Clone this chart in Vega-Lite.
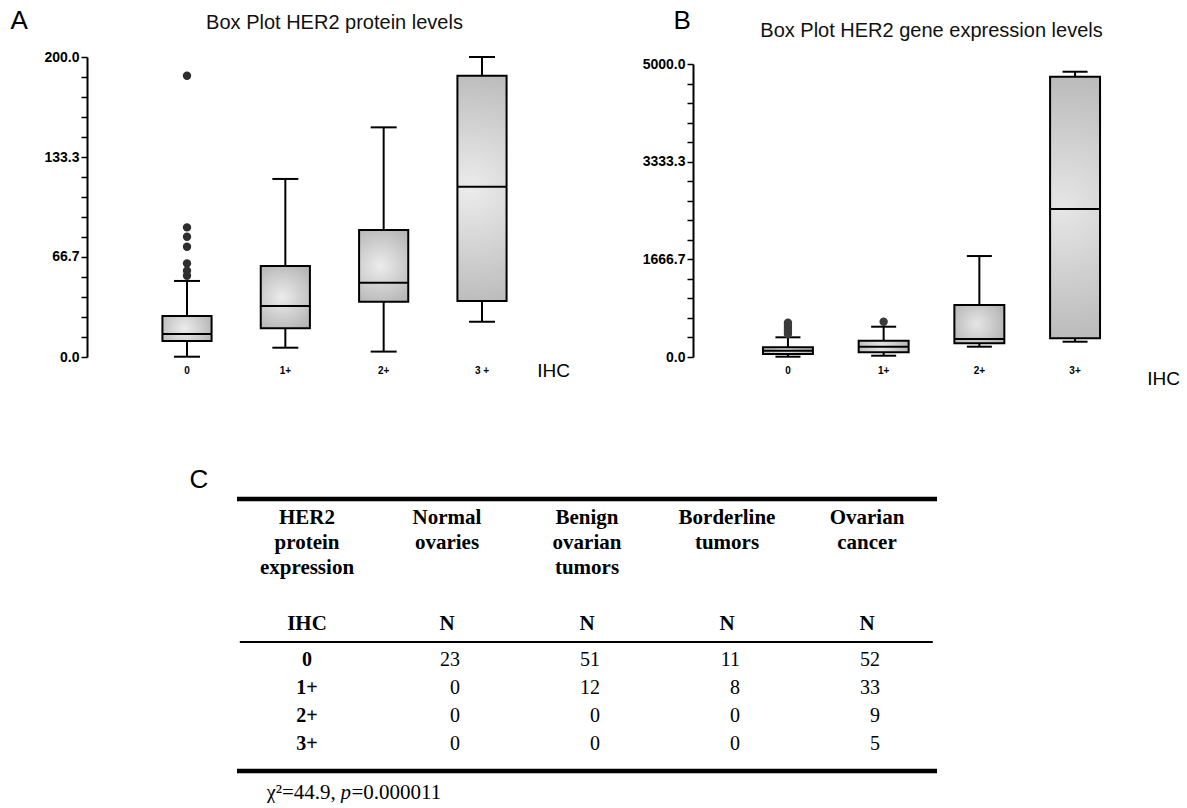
{
  "$schema": "https://vega.github.io/schema/vega-lite/v6.json",
  "padding": {"left": 10, "top": 7, "right": 0, "bottom": 0},
  "background": "white",
  "config": {
    "view": {"stroke": null},
    "font": "Liberation Sans",
    "axis": {"grid": false, "labelOverlap": false}
  },
  "datasets": {
    "boxA": [
      {"ihc": "0", "low": 0.2, "q1": 10.7, "median": 15.3, "q3": 27.3, "high": 50.7},
      {"ihc": "1+", "low": 6.2, "q1": 19.1, "median": 34.0, "q3": 60.7, "high": 118.7},
      {"ihc": "2+", "low": 3.6, "q1": 36.9, "median": 49.5, "q3": 84.7, "high": 153.1},
      {"ihc": "3+", "low": 23.5, "q1": 37.3, "median": 113.5, "q3": 187.5, "high": 200.0}
    ],
    "outA": [
      {"ihc": "0", "value": 54.2},
      {"ihc": "0", "value": 57.5},
      {"ihc": "0", "value": 62.4},
      {"ihc": "0", "value": 73.5},
      {"ihc": "0", "value": 80.2},
      {"ihc": "0", "value": 86.4},
      {"ihc": "0", "value": 187.5}
    ],
    "boxB": [
      {"ihc": "0", "low": 5, "q1": 51, "median": 107, "q3": 165, "high": 336},
      {"ihc": "1+", "low": 22, "q1": 80, "median": 176, "q3": 278, "high": 517},
      {"ihc": "2+", "low": 176, "q1": 233, "median": 307, "q3": 887, "high": 1723},
      {"ihc": "3+", "low": 261, "q1": 319, "median": 2525, "q3": 4782, "high": 4868}
    ],
    "outB": [
      {"ihc": "0", "value": 392},
      {"ihc": "0", "value": 430},
      {"ihc": "0", "value": 470},
      {"ihc": "0", "value": 510},
      {"ihc": "0", "value": 550},
      {"ihc": "0", "value": 585},
      {"ihc": "1+", "value": 602}
    ],
    "headers": [
      {"c": 0, "label": "HER2\nprotein\nexpression"},
      {"c": 1, "label": "Normal\novaries"},
      {"c": 2, "label": "Benign\novarian\ntumors"},
      {"c": 3, "label": "Borderline\ntumors"},
      {"c": 4, "label": "Ovarian\ncancer"}
    ],
    "subheaders": [
      {"c": 0, "label": "IHC"},
      {"c": 1, "label": "N"},
      {"c": 2, "label": "N"},
      {"c": 3, "label": "N"},
      {"c": 4, "label": "N"}
    ],
    "rowlabels": [
      {"r": 1, "label": "0"},
      {"r": 2, "label": "1+"},
      {"r": 3, "label": "2+"},
      {"r": 4, "label": "3+"}
    ],
    "counts": [
      {"r": 1, "c": 1, "n": 23}, {"r": 1, "c": 2, "n": 51}, {"r": 1, "c": 3, "n": 11}, {"r": 1, "c": 4, "n": 52},
      {"r": 2, "c": 1, "n": 0}, {"r": 2, "c": 2, "n": 12}, {"r": 2, "c": 3, "n": 8}, {"r": 2, "c": 4, "n": 33},
      {"r": 3, "c": 1, "n": 0}, {"r": 3, "c": 2, "n": 0}, {"r": 3, "c": 3, "n": 0}, {"r": 3, "c": 4, "n": 9},
      {"r": 4, "c": 1, "n": 0}, {"r": 4, "c": 2, "n": 0}, {"r": 4, "c": 3, "n": 0}, {"r": 4, "c": 4, "n": 5}
    ],
    "note": [{"chi": "χ²=44.9,", "p": "p", "pval": "=0.000011"}],
    "one": [{"k": 1}]
  },
  "spacing": 76,
  "vconcat": [
    {
      "spacing": 60,
      "hconcat": [
        {
          "width": 495,
          "height": 300,
          "title": {"text": "Box Plot HER2 protein levels", "fontSize": 20, "fontWeight": "normal", "font": "Liberation Sans", "color": "#111", "anchor": "middle", "frame": "group", "offset": 4, "dy": 29.5},
          "encoding": {
            "x": {
              "field": "ihc", "type": "nominal",
              "scale": {"domain": ["0", "1+", "2+", "3+"], "paddingInner": 0.5, "paddingOuter": 0.767},
              "axis": {
                "title": "IHC", "domain": false, "ticks": false, "labelAngle": 0,
                "labelFontSize": 10, "labelFontWeight": "bold", "labelPadding": 8, "labelColor": "black",
                "labelExpr": "datum.value == '3+' ? '3 +' : datum.value",
                "titleFontSize": 19, "titleFontWeight": "normal", "titleColor": "black",
                "titleX": 466, "titleY": 13, "titleBaseline": "middle", "titleAlign": "center"
              }
            }
          },
          "layer": [
            {
              "data": {"name": "boxA"},
              "mark": {"type": "rule", "strokeWidth": 2, "color": "black"},
              "encoding": {
                "y": {
                  "field": "low", "type": "quantitative", "title": "A",
                  "scale": {"domain": [0, 200], "nice": false},
                  "axis": {
                    "values": [0, 13.3333, 26.6667, 40, 53.3333, 66.6667, 80, 93.3333, 106.6667, 120, 133.3333, 146.6667, 160, 173.3333, 186.6667, 200],
                    "tickCount": 40,
                    "labelExpr": "round(datum.value * 3) % 200 == 0 ? format(datum.value, '.1f') : ''",
                    "labelOverlap": false, "labelFontSize": 14, "labelFontWeight": "bold", "labelColor": "black", "labelPadding": 2,
                    "domainColor": "black", "domainWidth": 2, "tickColor": "black", "tickWidth": 1.5, "tickSize": 6,
                    "titleAngle": 0, "titleAlign": "left", "titleBaseline": "alphabetic",
                    "titleX": -77, "titleY": -29, "titleFontSize": 26, "titleFontWeight": "normal", "titleColor": "black"
                  }
                },
                "y2": {"field": "high"}
              }
            },
            {
              "data": {"name": "boxA"},
              "mark": {
                "type": "bar", "stroke": "black", "strokeWidth": 2,
                "fill": {"gradient": "radial", "x1": 0.45, "y1": 0.5, "x2": 0.45, "y2": 0.5, "r1": 0, "r2": 0.75,
                  "stops": [{"offset": 0, "color": "#ececec"}, {"offset": 1, "color": "#a6a6a6"}]}
              },
              "encoding": {
                "y": {"field": "q1", "type": "quantitative", "title": "A"},
                "y2": {"field": "q3"}
              }
            },
            {
              "data": {"name": "boxA"},
              "mark": {"type": "tick", "color": "black", "thickness": 2, "size": 49, "opacity": 1},
              "encoding": {"y": {"field": "median", "type": "quantitative", "title": "A"}}
            },
            {
              "data": {"name": "boxA"},
              "mark": {"type": "tick", "color": "black", "thickness": 2, "size": 26, "opacity": 1},
              "encoding": {"y": {"field": "low", "type": "quantitative", "title": "A"}}
            },
            {
              "data": {"name": "boxA"},
              "mark": {"type": "tick", "color": "black", "thickness": 2, "size": 26, "opacity": 1},
              "encoding": {"y": {"field": "high", "type": "quantitative", "title": "A"}}
            },
            {
              "data": {"name": "outA"},
              "mark": {"type": "circle", "size": 70, "color": "#2e2e2e", "opacity": 1},
              "encoding": {"y": {"field": "value", "type": "quantitative", "title": "A"}}
            }
          ]
        },
        {
          "width": 477,
          "height": 300,
          "title": {"text": "Box Plot HER2 gene expression levels", "fontSize": 20, "fontWeight": "normal", "font": "Liberation Sans", "color": "#111", "anchor": "middle", "frame": "group", "offset": 4, "dy": 38},
          "encoding": {
            "x": {
              "field": "ihc", "type": "nominal",
              "scale": {"domain": ["0", "1+", "2+", "3+"], "paddingInner": 0.478, "paddingOuter": 0.731},
              "axis": {
                "title": "IHC", "domain": false, "ticks": false, "labelAngle": 0,
                "labelFontSize": 10, "labelFontWeight": "bold", "labelPadding": 8, "labelColor": "black",
                "titleFontSize": 19, "titleFontWeight": "normal", "titleColor": "black",
                "titleX": 470, "titleY": 21, "titleBaseline": "middle", "titleAlign": "center"
              }
            }
          },
          "layer": [
            {
              "data": {"name": "boxB"},
              "mark": {"type": "rule", "strokeWidth": 2, "color": "black"},
              "encoding": {
                "y": {
                  "field": "low", "type": "quantitative", "title": "B",
                  "scale": {"domain": [0, 5000], "nice": false, "range": [300, 7]},
                  "axis": {
                    "values": [0, 333.3333, 666.6667, 1000, 1333.3333, 1666.6667, 2000, 2333.3333, 2666.6667, 3000, 3333.3333, 3666.6667, 4000, 4333.3333, 4666.6667, 5000],
                    "tickCount": 40,
                    "labelExpr": "round(datum.value / 333.3333) % 5 == 0 ? format(datum.value, '.1f') : ''",
                    "labelOverlap": false, "labelFontSize": 14, "labelFontWeight": "bold", "labelColor": "black", "labelPadding": 2,
                    "domainColor": "black", "domainWidth": 2, "tickColor": "black", "tickWidth": 1.5, "tickSize": 6,
                    "titleAngle": 0, "titleAlign": "left", "titleBaseline": "alphabetic",
                    "titleX": -20, "titleY": -29, "titleFontSize": 26, "titleFontWeight": "normal", "titleColor": "black"
                  }
                },
                "y2": {"field": "high"}
              }
            },
            {
              "data": {"name": "boxB"},
              "mark": {
                "type": "bar", "stroke": "black", "strokeWidth": 2,
                "fill": {"gradient": "radial", "x1": 0.45, "y1": 0.5, "x2": 0.45, "y2": 0.5, "r1": 0, "r2": 0.75,
                  "stops": [{"offset": 0, "color": "#e6e6e6"}, {"offset": 1, "color": "#a6a6a6"}]}
              },
              "encoding": {
                "y": {"field": "q1", "type": "quantitative", "title": "B"},
                "y2": {"field": "q3"}
              }
            },
            {
              "data": {"name": "boxB"},
              "mark": {"type": "tick", "color": "black", "thickness": 2, "size": 50, "opacity": 1},
              "encoding": {"y": {"field": "median", "type": "quantitative", "title": "B"}}
            },
            {
              "data": {"name": "boxB"},
              "mark": {"type": "tick", "color": "black", "thickness": 2, "size": 25, "opacity": 1},
              "encoding": {"y": {"field": "low", "type": "quantitative", "title": "B"}}
            },
            {
              "data": {"name": "boxB"},
              "mark": {"type": "tick", "color": "black", "thickness": 2, "size": 25, "opacity": 1},
              "encoding": {"y": {"field": "high", "type": "quantitative", "title": "B"}}
            },
            {
              "data": {"name": "outB"},
              "mark": {"type": "circle", "size": 70, "color": "#3a3a3a", "opacity": 1},
              "encoding": {"y": {"field": "value", "type": "quantitative", "title": "B"}}
            }
          ]
        }
      ]
    },
    {
      "width": 860,
      "height": 336,
      "encoding": {
        "x": {"type": "quantitative", "scale": {"domain": [-1.5714, 4.5714], "nice": false, "zero": false}, "axis": null}
      },
      "layer": [
        {
          "data": {"name": "one"},
          "mark": {"type": "rule", "strokeWidth": 4.5, "color": "black"},
          "encoding": {
            "x": {"datum": -0.5, "type": "quantitative"},
            "x2": {"datum": 4.5},
            "y": {
              "datum": -4.75, "type": "quantitative",
              "scale": {"domain": [-6, 6], "reverse": true, "nice": false, "zero": false},
              "axis": {
                "title": "C", "domain": false, "ticks": false, "labels": false, "grid": false,
                "titleAngle": 0, "titleAlign": "left", "titleBaseline": "alphabetic",
                "titleX": 102, "titleY": 23, "titleFontSize": 26, "titleFontWeight": "normal", "titleColor": "black", "titleFont": "Liberation Sans"
              }
            }
          }
        },
        {
          "data": {"name": "one"},
          "mark": {"type": "rule", "strokeWidth": 4.5, "color": "black"},
          "encoding": {
            "x": {"datum": -0.5, "type": "quantitative"},
            "x2": {"datum": 4.5},
            "y": {"datum": 4.96, "type": "quantitative"}
          }
        },
        {
          "data": {"name": "one"},
          "mark": {"type": "rule", "strokeWidth": 2, "color": "black"},
          "encoding": {
            "x": {"datum": -0.48, "type": "quantitative"},
            "x2": {"datum": 4.47},
            "y": {"datum": 0.36, "type": "quantitative"}
          }
        },
        {
          "data": {"name": "headers"},
          "mark": {"type": "text", "font": "Liberation Serif", "fontWeight": "bold", "fontSize": 21, "align": "center", "baseline": "top", "lineBreak": "\n", "lineHeight": 25, "color": "black"},
          "encoding": {
            "x": {"field": "c", "type": "quantitative"},
            "y": {"datum": -4.45, "type": "quantitative"},
            "text": {"field": "label"}
          }
        },
        {
          "data": {"name": "subheaders"},
          "mark": {"type": "text", "font": "Liberation Serif", "fontWeight": "bold", "fontSize": 21, "align": "center", "baseline": "middle", "color": "black"},
          "encoding": {
            "x": {"field": "c", "type": "quantitative"},
            "y": {"datum": -0.29, "type": "quantitative"},
            "text": {"field": "label"}
          }
        },
        {
          "data": {"name": "rowlabels"},
          "mark": {"type": "text", "font": "Liberation Serif", "fontWeight": "bold", "fontSize": 20, "align": "center", "baseline": "middle", "color": "black"},
          "encoding": {
            "x": {"datum": 0, "type": "quantitative"},
            "y": {"field": "r", "type": "quantitative"},
            "text": {"field": "label"}
          }
        },
        {
          "data": {"name": "counts"},
          "mark": {"type": "text", "font": "Liberation Serif", "fontSize": 20, "align": "right", "dx": 13, "baseline": "middle", "color": "black"},
          "encoding": {
            "x": {"field": "c", "type": "quantitative"},
            "y": {"field": "r", "type": "quantitative"},
            "text": {"field": "n"}
          }
        },
        {
          "data": {"name": "note"},
          "mark": {"type": "text", "font": "Liberation Serif", "fontSize": 21, "align": "left", "baseline": "middle", "color": "black"},
          "encoding": {
            "x": {"datum": -0.29, "type": "quantitative"},
            "y": {"datum": 5.75, "type": "quantitative"},
            "text": {"field": "chi"}
          }
        },
        {
          "data": {"name": "note"},
          "mark": {"type": "text", "font": "Liberation Serif", "fontSize": 21, "fontStyle": "italic", "align": "left", "baseline": "middle", "dx": 74, "color": "black"},
          "encoding": {
            "x": {"datum": -0.29, "type": "quantitative"},
            "y": {"datum": 5.75, "type": "quantitative"},
            "text": {"field": "p"}
          }
        },
        {
          "data": {"name": "note"},
          "mark": {"type": "text", "font": "Liberation Serif", "fontSize": 21, "align": "left", "baseline": "middle", "dx": 85, "color": "black"},
          "encoding": {
            "x": {"datum": -0.29, "type": "quantitative"},
            "y": {"datum": 5.75, "type": "quantitative"},
            "text": {"field": "pval"}
          }
        }
      ]
    }
  ]
}
